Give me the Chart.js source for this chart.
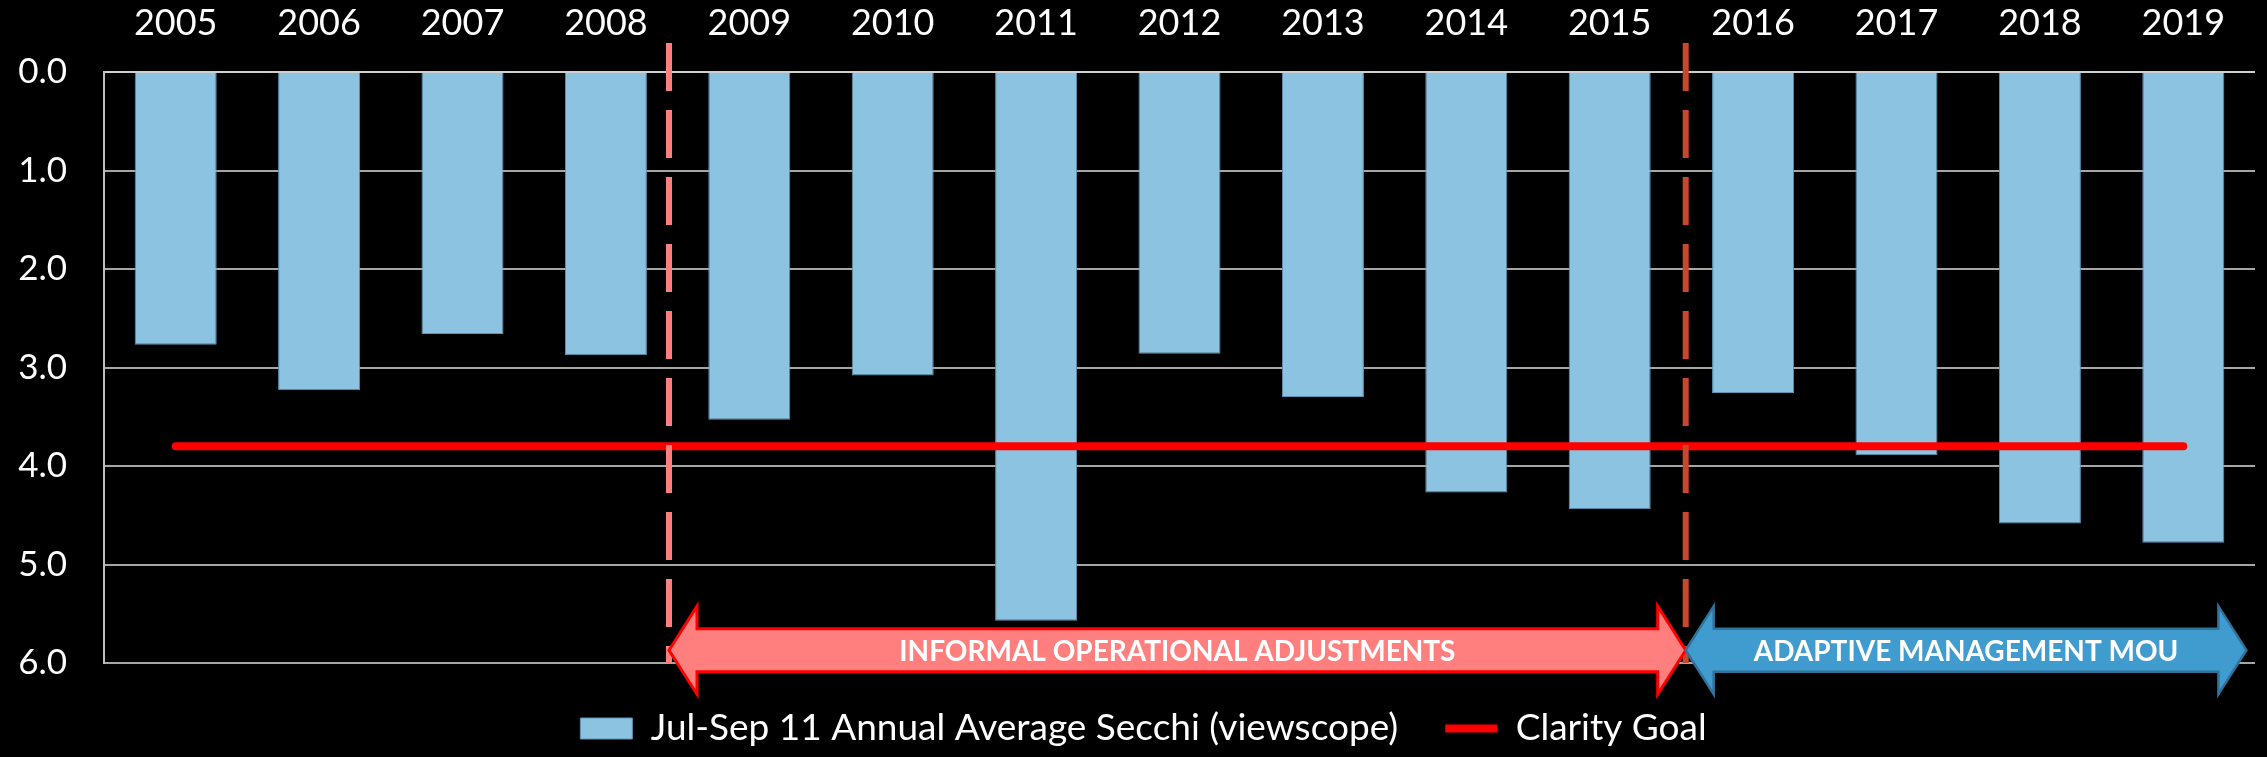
<!DOCTYPE html>
<html><head><meta charset="utf-8">
<script src="https://cdn.jsdelivr.net/npm/chart.js@4.4.1/dist/chart.umd.min.js"></script>
<style>html,body{margin:0;padding:0;background:#000;overflow:hidden;} canvas{display:block;}</style>
</head><body>
<canvas id="c" width="2267" height="757"></canvas>
<script>
// ---- data ----
const years = ['2005','2006','2007','2008','2009','2010','2011','2012','2013','2014','2015','2016','2017','2018','2019'];
const secchi = [2.77, 3.23, 2.66, 2.875, 3.53, 3.08, 5.57, 2.86, 3.30, 4.27, 4.44, 3.26, 3.89, 4.585, 4.78];
const clarityGoal = [3.8, 3.8, 3.8, 3.8, 3.8, 3.8, 3.8, 3.8, 3.8, 3.8, 3.8, 3.8, 3.8, 3.8, 3.8];
const yTicks = [0, 1, 2, 3, 4, 5, 6];
const seriesNames = ['Jul-Sep 11 Annual Average Secchi (viewscope)', 'Clarity Goal'];
// phase annotations (positions in category units)
const phaseNames = ['INFORMAL OPERATIONAL ADJUSTMENTS', 'ADAPTIVE MANAGEMENT MOU'];
const phaseStarts = [3.44, 10.53];
const phaseEnds = [10.53, 14.44];
const arrowDepth = 5.87;

const FONT = "Lato, 'Open Sans', 'DejaVu Sans', sans-serif";

const phasePlugin = {
  id: 'phases',
  afterLayout(chart) {
    // centre the legend a little right of the canvas middle, as in the original
    if (chart.legend) { chart.legend.left = 32; }
  },
  afterDraw(chart) {
    const {ctx, chartArea, scales: {x, y}} = chart;
    const dividerColors = ['#FF7F7F', '#C9482B'];
    // dashed dividers
    phaseStarts.forEach((v, i) => {
      const px = x.getPixelForValue(v);
      ctx.save();
      ctx.strokeStyle = dividerColors[i];
      ctx.lineWidth = 6;
      ctx.setLineDash([48, 19]);
      ctx.beginPath();
      ctx.moveTo(px, chartArea.top - 29);
      ctx.lineTo(px, chartArea.bottom);
      ctx.stroke();
      ctx.restore();
    });
    // double-headed arrows
    const fills = ['#FF7F7F', '#409BCE'];
    const strokes = ['#FF0000', '#31729A'];
    const strokeW = [3, 2.5];
    phaseNames.forEach((name, i) => {
      const x1 = x.getPixelForValue(phaseStarts[i]);
      const x2 = x.getPixelForValue(phaseEnds[i]);
      const cy = y.getPixelForValue(arrowDepth);
      const H = 44, s = 21.5, h = 28;
      ctx.save();
      ctx.beginPath();
      ctx.moveTo(x1, cy);
      ctx.lineTo(x1 + h, cy - H);
      ctx.lineTo(x1 + h, cy - s);
      ctx.lineTo(x2 - h, cy - s);
      ctx.lineTo(x2 - h, cy - H);
      ctx.lineTo(x2, cy);
      ctx.lineTo(x2 - h, cy + H);
      ctx.lineTo(x2 - h, cy + s);
      ctx.lineTo(x1 + h, cy + s);
      ctx.lineTo(x1 + h, cy + H);
      ctx.closePath();
      ctx.fillStyle = fills[i];
      ctx.fill();
      ctx.lineJoin = 'miter';
      ctx.lineWidth = strokeW[i];
      ctx.strokeStyle = strokes[i];
      ctx.stroke();
      ctx.fillStyle = '#FFFFFF';
      ctx.font = "bold 28px " + FONT;
      ctx.textAlign = 'center';
      ctx.textBaseline = 'middle';
      ctx.fillText(name, (x1 + x2) / 2, cy + 2);
      ctx.restore();
    });
  }
};

const canvas = document.getElementById('c');
const ctx2d = canvas.getContext('2d');
if ('letterSpacing' in ctx2d) ctx2d.letterSpacing = '1px';

new Chart(canvas, {
  data: {
    labels: years,
    datasets: [
      {
        type: 'bar',
        label: seriesNames[0],
        data: secchi,
        backgroundColor: '#8BC3E0',
        borderColor: '#5F93B5',
        borderWidth: 1,
        barPercentage: 0.572,
        categoryPercentage: 1,
        pointStyle: 'rect',
        order: 1
      },
      {
        type: 'line',
        label: seriesNames[1],
        data: clarityGoal,
        borderColor: '#FF0000',
        backgroundColor: '#FF0000',
        borderWidth: 8,
        borderCapStyle: 'round',
        pointRadius: 0,
        pointHoverRadius: 0,
        pointStyle: 'line',
        order: 0
      }
    ]
  },
  options: {
    responsive: false,
    animation: false,
    events: [],
    layout: { padding: { left: 0, right: 12, top: 0, bottom: 0 } },
    scales: {
      x: {
        type: 'category',
        position: 'top',
        offset: true,
        grid: { display: false, drawTicks: false },
        border: { display: false },
        ticks: { color: '#FFFFFF', font: { family: FONT, size: 36 }, padding: 27, maxRotation: 0 },
        afterFit(s) { s.height = 72; }
      },
      y: {
        type: 'linear',
        reverse: true,
        min: 0,
        max: 6,
        afterBuildTicks(s) { s.ticks = yTicks.map(v => ({ value: v })); },
        grid: {
          color: ctx => ctx.index === 0 ? '#D0D0D0' : '#A6A6A6',
          lineWidth: 2,
          drawTicks: false
        },
        border: { display: true, color: '#BFBFBF', width: 2 },
        ticks: {
          color: '#FFFFFF',
          font: { family: FONT, size: 35 },
          padding: 37,
          callback: v => Number(v).toFixed(1)
        },
        afterFit(s) { s.width = 104; }
      }
    },
    plugins: {
      legend: {
        position: 'bottom',
        labels: {
          color: '#FFFFFF',
          font: { family: FONT, size: 37 },
          usePointStyle: true,
          pointStyleWidth: 52,
          boxHeight: 21,
          padding: 47,
          sort: (a, b) => a.datasetIndex - b.datasetIndex
        }
      },
      tooltip: { enabled: false }
    }
  },
  plugins: [phasePlugin]
});
</script>
</body></html>
